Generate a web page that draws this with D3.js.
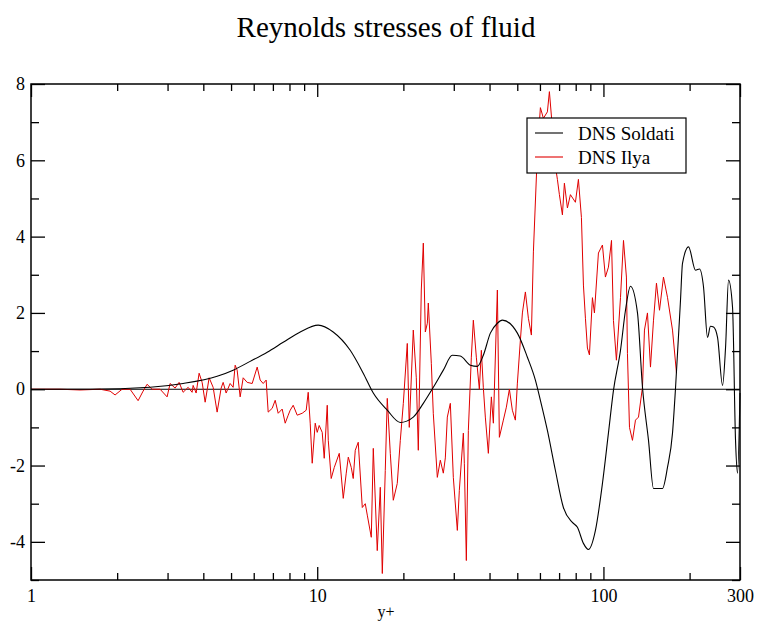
<!DOCTYPE html>
<html>
<head>
<meta charset="utf-8">
<script src="https://cdn.jsdelivr.net/npm/d3@7"></script>
<style>
  html, body { margin: 0; padding: 0; background: #fff; }
  svg { display: block; }
</style>
</head>
<body>
<svg id="chart" width="758" height="623"></svg>
<script>
// ---- data ----
const title = "Reynolds stresses of fluid";
const xLabel = "y+";
const seriesNames = ["DNS Soldati", "DNS Ilya"];
const xTickMajor = [1, 10, 100, 300];
const xTickMinor = [2,3,4,5,6,7,8,9,20,30,40,50,60,70,80,90,200];
const yTickMajor = [-4, -2, 0, 2, 4, 6, 8];
const yTickMinor = [-5, -3, -1, 1, 3, 5, 7];

const soldatiX = [1, 1.608, 2.607, 3.400, 4.47, 5.085, 5.830, 6.687, 7.605, 8.722, 10.08, 11.37, 13.04, 14.48, 15.70, 17.57, 19.51, 21.66, 23.48, 25.45, 27.58, 29.65, 31.62, 34.28, 36.26, 38.05, 40.26, 42.60, 44.35, 50.04, 54.24, 57.84, 60.22, 63.71, 67.95, 72.46, 77.91, 81.12, 85.13, 88.64, 93.76, 99.2, 104.1, 108.4, 114.7, 119.4, 124.3, 131.5, 136.9, 143.7, 149.6, 160.8, 167.4, 174.3, 178.5, 185.9, 188.9, 198.3, 209.8, 216.6, 223.7, 231.0, 236.6, 242.5, 250.4, 260.7, 267.1, 273.6, 282.5, 289.4, 294.1, 300];
const soldatiY = [0, 0, 0.05, 0.15, 0.34, 0.5, 0.73, 0.97, 1.23, 1.5, 1.68, 1.5, 1.02, 0.42, -0.1, -0.55, -0.87, -0.73, -0.37, 0.05, 0.5, 0.89, 0.87, 0.63, 0.6, 0.89, 1.47, 1.73, 1.81, 1.47, 0.84, 0.24, -0.29, -1.08, -2.13, -3.1, -3.49, -3.62, -4.04, -4.2, -3.7, -2.47, -1.15, -0.03, 1.02, 2.07, 2.7, 2.0, 0.05, -1.34, -2.6, -2.6, -2.05, -1.15, 0, 2.34, 3.3, 3.73, 3.12, 3.15, 2.68, 1.36, 1.65, 1.63, 1.36, 0.1, 1.1, 2.86, 2.15, -1.34, -2.2, -0.1];

const ilyaX = [1.000, 1.263, 1.484, 1.743, 1.889, 1.967, 2.081, 2.219, 2.367, 2.464, 2.544, 2.649, 2.825, 2.989, 3.062, 3.188, 3.292, 3.400, 3.540, 3.655, 3.685, 3.775, 3.867, 3.962, 4.059, 4.192, 4.329, 4.470, 4.617, 4.692, 4.806, 4.963, 5.085, 5.168, 5.251, 5.380, 5.512, 5.692, 5.926, 6.169, 6.320, 6.474, 6.632, 6.740, 6.961, 7.131, 7.305, 7.544, 7.729, 7.918, 8.046, 8.243, 8.513, 8.862, 9.152, 9.301, 9.452, 9.605, 9.840, 10.00, 10.16, 10.41, 10.58, 10.84, 10.93, 11.19, 11.47, 11.94, 12.33, 12.63, 12.84, 13.15, 13.36, 13.58, 13.91, 14.37, 14.72, 14.96, 15.45, 15.70, 16.21, 16.61, 16.88, 17.29, 17.57, 18.00, 18.44, 19.04, 19.51, 19.99, 20.64, 20.97, 21.66, 22.19, 22.55, 23.10, 23.48, 23.86, 24.25, 24.44, 25.04, 25.44, 26.28, 26.92, 27.58, 28.03, 28.48, 29.18, 29.89, 30.87, 31.37, 32.40, 32.66, 33.19, 33.73, 34.55, 35.11, 35.97, 36.85, 37.45, 38.05, 38.67, 39.62, 40.59, 41.25, 42.60, 43.29, 44.70, 45.80, 46.92, 48.06, 49.24, 50.04, 51.26, 52.10, 53.37, 54.67, 56.01, 56.92, 58.78, 60.22, 61.69, 63.71, 64.74, 66.32, 66.86, 69.05, 70.17, 71.89, 73.05, 74.84, 76.67, 79.82, 81.77, 83.77, 85.13, 86.51, 87.91, 89.34, 91.52, 93.01, 96.05, 99.2, 101.6, 104.1, 106.7, 108.4, 111.0, 114.7, 117.5, 120.3, 121.3, 123.3, 126.3, 129.4, 132.6, 136.9, 139.1, 142.5, 146.0, 149.6, 153.2, 157.0, 162.1, 167.4, 174.3, 180.0];
const ilyaY = [0, 0, -0.02, 0, -0.05, -0.15, 0, 0, -0.3, -0.05, 0.13, 0, 0, -0.2, 0.15, 0.03, 0.18, -0.08, 0.05, -0.08, 0.1, -0.1, 0.42, 0.18, -0.34, 0.3, 0.05, -0.6, 0.03, 0.18, -0.1, 0.15, 0.05, 0.63, 0.5, -0.2, 0.3, 0.18, 0.15, 0.58, 0.24, 0.15, 0.24, -0.6, -0.5, -0.29, -0.63, -0.52, -0.89, -0.68, -0.55, -0.42, -0.68, -0.63, -0.55, -0.08, -0.89, -1.94, -0.89, -1.13, -0.95, -1.13, -1.81, -0.42, -1.34, -2.34, -2.05, -1.68, -2.86, -2.2, -1.78, -2.05, -2.34, -1.6, -1.39, -3.1, -3.0, -3.3, -3.88, -1.55, -4.23, -2.57, -4.83, -2.13, -0.24, -1.68, -2.91, -2.47, -1.34, -0.37, 1.2, -1.0, 1.55, 0.3, -1.6, 2.6, 3.83, 1.5, 1.73, 2.26, 0.68, -0.63, -2.31, -1.86, -2.2, -1.8, -0.73, -0.37, -2.31, -3.7, -2.65, -1.15, -1.94, -4.49, -1.08, 0.84, 1.81, 0.84, 0, 1.02, 0.05, -0.73, -1.68, -0.2, -0.89, 2.6, -1.26, -0.81, -0.47, 0, -0.55, -0.81, 0.16, 1.28, 2.0, 2.55, 1.86, 1.42, 3.6, 6.22, 7.38, 7.1, 7.27, 7.8, 6.85, 6.2, 5.5, 5.1, 4.57, 5.4, 4.75, 5.1, 4.9, 5.5, 4.5, 2.73, 1.86, 1.08, 0.9, 2.4, 2.0, 3.57, 3.78, 2.94, 3.2, 3.9, 1.8, 0.76, 2.4, 3.9, 2.94, 0.94, -1.0, -1.34, -0.81, -0.73, 0.05, 1.55, 2.0, 0.58, 1.81, 2.78, 2.07, 2.94, 2.41, 1.55, 0.42];

// ---- layout ----
const W = 758, H = 623;
const L = 31, R = 740, T = 84, B = 580;
const serif = "'Liberation Serif', 'Times New Roman', serif";

const svg = d3.select("#chart");
const x = d3.scaleLog().domain([1, 300]).range([L, R]);
const y = d3.scaleLinear().domain([-5, 8]).range([B, T]);

// title
svg.append("text")
  .attr("x", 386).attr("y", 37)
  .attr("text-anchor", "middle")
  .attr("font-family", serif).attr("font-size", 29)
  .attr("fill", "#000")
  .text(title);

// zero line
svg.append("line")
  .attr("x1", L).attr("x2", R)
  .attr("y1", y(0)).attr("y2", y(0))
  .attr("stroke", "#000").attr("stroke-width", 1.2);

// series
const soldati = soldatiX.map((v, i) => [v, soldatiY[i]]);
const ilya = ilyaX.map((v, i) => [v, ilyaY[i]]);

svg.append("path")
  .datum(ilya)
  .attr("fill", "none").attr("stroke", "#e00000").attr("stroke-width", 1)
  .attr("d", d3.line().x(d => x(d[0])).y(d => y(d[1])));

svg.append("path")
  .datum(soldati)
  .attr("fill", "none").attr("stroke", "#000").attr("stroke-width", 1.1)
  .attr("d", d3.line().curve(d3.curveMonotoneX).x(d => x(d[0])).y(d => y(d[1])));

// axes
function styleAxis(g) {
  g.select(".domain").remove();
  g.selectAll("line").attr("stroke", "#000").attr("stroke-width", 1.3);
  g.selectAll("text").attr("font-family", serif).attr("font-size", 18).attr("fill", "#000");
}
const fmt = d => String(d);

svg.append("g").attr("transform", `translate(0,${B})`)
  .call(d3.axisBottom(x).tickValues(xTickMajor).tickFormat(fmt).tickSize(-13).tickSizeOuter(0).tickPadding(9))
  .call(styleAxis);
svg.append("g").attr("transform", `translate(0,${B})`)
  .call(d3.axisBottom(x).tickValues(xTickMinor).tickFormat("").tickSize(-7).tickSizeOuter(0))
  .call(styleAxis);
svg.append("g").attr("transform", `translate(0,${T})`)
  .call(d3.axisTop(x).tickValues(xTickMajor).tickFormat("").tickSize(-13).tickSizeOuter(0))
  .call(styleAxis);
svg.append("g").attr("transform", `translate(0,${T})`)
  .call(d3.axisTop(x).tickValues(xTickMinor).tickFormat("").tickSize(-7).tickSizeOuter(0))
  .call(styleAxis);

svg.append("g").attr("transform", `translate(${L},0)`)
  .call(d3.axisLeft(y).tickValues(yTickMajor).tickFormat(fmt).tickSize(-14).tickSizeOuter(0).tickPadding(6))
  .call(styleAxis);
svg.append("g").attr("transform", `translate(${L},0)`)
  .call(d3.axisLeft(y).tickValues(yTickMinor).tickFormat("").tickSize(-8).tickSizeOuter(0))
  .call(styleAxis);
svg.append("g").attr("transform", `translate(${R},0)`)
  .call(d3.axisRight(y).tickValues(yTickMajor).tickFormat("").tickSize(-14).tickSizeOuter(0))
  .call(styleAxis);
svg.append("g").attr("transform", `translate(${R},0)`)
  .call(d3.axisRight(y).tickValues(yTickMinor).tickFormat("").tickSize(-8).tickSizeOuter(0))
  .call(styleAxis);

// frame
svg.append("rect")
  .attr("x", L).attr("y", T).attr("width", R - L).attr("height", B - T)
  .attr("fill", "none").attr("stroke", "#000").attr("stroke-width", 1.5);

// x label
svg.append("text")
  .attr("x", 386).attr("y", 617)
  .attr("text-anchor", "middle")
  .attr("font-family", serif).attr("font-size", 16)
  .attr("fill", "#000")
  .text(xLabel);

// legend
const lg = svg.append("g");
lg.append("rect")
  .attr("x", 527).attr("y", 118).attr("width", 159).attr("height", 55)
  .attr("fill", "#fff").attr("stroke", "#000").attr("stroke-width", 1.2);
const legendColors = ["#000", "#e00000"];
seriesNames.forEach((name, i) => {
  const yy = 133 + i * 24;
  lg.append("line").attr("x1", 535).attr("x2", 563).attr("y1", yy).attr("y2", yy)
    .attr("stroke", legendColors[i]).attr("stroke-width", 1.1);
  lg.append("text").attr("x", 578).attr("y", yy + 6.5)
    .attr("font-family", serif).attr("font-size", 19).attr("fill", "#000")
    .text(name);
});
</script>
</body>
</html>
